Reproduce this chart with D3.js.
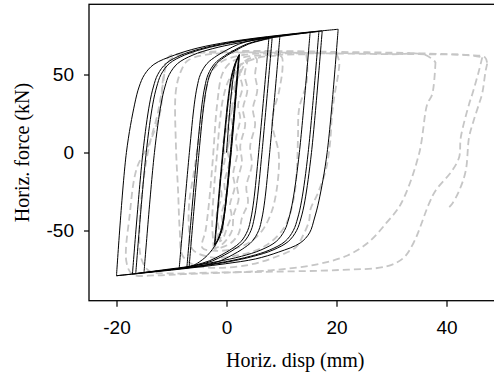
<!DOCTYPE html>
<html>
<head>
<meta charset="utf-8">
<script src="https://cdn.jsdelivr.net/npm/d3@7"></script>
<style>
  body { margin: 0; background: #fff; }
  svg { display: block; }
  .tick text { font-family: "Liberation Sans", Arial, sans-serif; font-size: 19px; fill: #000; }
  .title { font-family: "Liberation Serif", "Times New Roman", serif; font-size: 20px; fill: #000; }
</style>
</head>
<body>
<svg id="chart" width="494" height="379"></svg>
<script>
// axis ticks
const xTicks = [-20, 0, 20, 40]
const yTicks = [-50, 0, 50]

// model (black, solid): each branch runs from one reversal point to the next [disp mm, force kN]
const modelBranches = [
  [[0,0],[0.8,35],[1.3,50],[1.7,57],[2.2,62]],
  [[2.2,62],[0.7,0],[-0.4,-38],[-0.9,-48],[-1.5,-55],[-2.1,-59]],
  [[-2.1,-59],[-0.6,0],[0.5,38],[1.0,49],[1.6,57],[2.3,62.5]],
  [[2.3,62.5],[0.8,0],[-0.3,-38],[-0.8,-49],[-1.4,-55],[-2.2,-59.5]],
  [[-2.2,-59.5],[-0.7,0],[0.4,38],[0.9,49],[1.6,57.5],[2.35,63]],
  [[2.35,63],[0.85,0],[-0.3,-38],[-0.9,-50],[-1.8,-58],[-3.5,-66],[-5.3,-71],[-6.8,-73.5]],
  [[-6.8,-73.5],[-5,0],[-4.1,31],[-3.6,42],[-3,50],[-1.8,57],[0,62],[1.8,65.7],[4,69.5],[6.5,72],[7.7,73]],
  [[7.7,73],[5.85,0],[4.95,-31],[4.45,-42],[3.85,-50],[2.65,-57],[0.85,-62],[-0.95,-65.7],[-3.15,-69.5],[-5.5,-72],[-7.2,-73.5]],
  [[-7.2,-73.5],[-5.35,0],[-4.45,31],[-3.95,42],[-3.35,50],[-2.15,57],[-0.35,62],[1.45,65.7],[3.65,69.5],[6.15,72],[8.3,73.5]],
  [[8.3,73.5],[6.45,0],[5.55,-31],[5.05,-42],[4.45,-50],[3.25,-57],[1.45,-62],[-0.35,-65.7],[-2.55,-69.5],[-5.05,-72],[-7,-73.3],[-8.6,-74.3]],
  [[-8.6,-74.3],[-6.75,0],[-5.85,31],[-5.35,42],[-4.75,50],[-3.55,57],[-1.75,62],[0.05,65.7],[2.25,69.5],[4.75,72],[7,73.3],[9.7,74.3]],
  [[9.7,74.3],[7.85,0],[6.95,-31],[6.45,-42],[5.85,-50],[4.65,-57],[2.85,-62],[1.05,-65.7],[-1.15,-69.5],[-3.65,-72],[-6,-73.4],[-10,-75],[-15,-77]],
  [[-15,-77],[-13.1,0],[-11.9,31],[-11.2,42],[-10.4,50],[-8.9,57],[-6.1,62.5],[-2.6,66.5],[1.9,70],[6.9,73],[11,75],[15.2,77]],
  [[15.2,77],[13.25,0],[12.05,-31],[11.35,-42],[10.55,-50],[9.05,-57],[6.25,-62.5],[2.75,-66.5],[-1.75,-70],[-6.75,-73],[-11,-75],[-16.5,-77.6]],
  [[-16.5,-77.6],[-14.6,0],[-13.4,31],[-12.7,42],[-11.9,50],[-10.4,57],[-7.6,62.5],[-4.1,66.5],[0.4,70],[5.4,72.8],[11,75.3],[16.8,77.6]],
  [[16.8,77.6],[14.85,0],[13.65,-31],[12.95,-42],[12.15,-50],[10.65,-57],[7.85,-62.5],[4.35,-66.5],[-0.15,-70],[-5.15,-72.8],[-11,-75.3],[-17.1,-77.9]],
  [[-17.1,-77.9],[-15.2,0],[-14,31],[-13.3,42],[-12.5,50],[-11,57],[-8.2,62.5],[-4.7,66.5],[-0.2,70],[4.8,72.8],[11,75.5],[17.4,77.9]],
  [[17.4,77.9],[15.45,0],[14.25,-31],[13.55,-42],[12.75,-50],[11.25,-57],[8.45,-62.5],[4.95,-66.5],[0.45,-70],[-4.55,-72.8],[-11,-75.5],[-20,-79]],
  [[-20,-79],[-18.2,0],[-16.7,31],[-15.9,42],[-14.9,50],[-13.2,56.5],[-9.4,62.5],[-5.2,67],[0.3,70.8],[5,73.2],[10,75.3],[15,77.2],[20.3,79]],
  [[20.3,79],[18.3,0],[16.8,-31],[16,-42],[15.1,-51.5],[13.4,-58],[9.5,-63.8],[5.3,-68.2],[-0.2,-71.3],[-5,-73.4],[-10,-75.4],[-15,-77.2],[-20,-79]]
]

// test (grey, dashed)
const testSmall = [[0,0],[0.6,12],[0.3,18],[1.1,30],[0.8,36],[1.6,44],[1.3,48],[2.2,54],[2.8,57],[2.4,50],[2.9,42],[2.1,30],[2.5,22],[1.7,8],[2.0,0],[1.2,-14],[1.5,-22],[0.6,-34],[0.9,-40],[0.1,-48],[-0.5,-54],[-1.2,-57],[-0.6,-48],[-0.9,-40],[-0.1,-28],[-0.4,-20],[0.5,-6],[0.2,2],[1.1,16],[0.8,24],[1.7,36],[1.4,42],[2.4,50],[3.2,56],[3.8,59],[3.3,50],[3.8,40],[3.0,28],[3.4,18],[2.5,4],[2.8,-6],[1.9,-20],[2.2,-30],[1.3,-40],[1.0,-50],[0,-56],[-1.2,-60],[-2,-61],[-1.4,-50],[-1.8,-40],[-0.9,-28],[-1.2,-18],[-0.3,-4],[-0.6,6],[0.4,20],[0.1,28],[1.1,40],[0.9,46],[2,54],[3.5,59],[5,61],[5.5,60],[5.2,50],[5.6,40],[4.8,28],[5.2,18],[4.3,4],[4.6,-8],[3.6,-22],[3.9,-32],[2.8,-42],[2.2,-52],[0.8,-58],[-1,-61],[-2.3,-62]]
const testLoop10 = [[-2.3,-62],[-2.6,-45],[-2.2,-20],[-1.7,0],[-1.2,20],[-0.6,35],[0.5,47],[2.5,56],[5.5,60.5],[8.5,62],[10,61.5],[10.2,55],[9.6,40],[8.3,20],[9.5,-1],[9.2,-22],[8.2,-38],[6.5,-50],[4,-58],[1,-62],[-2,-63],[-4.4,-61],[-3.8,-50],[-3.2,-33],[-2.5,-5],[-1.7,31],[-0.8,50],[0.5,57],[3,61],[8,62.5],[14.5,63]]
const testLoop14 = [[14.5,63],[14.7,55],[14.5,44],[13.2,28],[13,10],[12.8,-10],[12.2,-30],[10.5,-48],[7,-60],[2,-66],[-3,-67],[-6.2,-62],[-6.8,-50],[-6.8,-33],[-5.8,-10],[-5,10],[-4.1,31],[-3,50],[-1,58],[3,62.5],[10,63.5],[20,63.5]]
const testLoop20 = [[20,63.5],[20.5,58],[20.3,50],[19.7,38],[19.2,25],[18.8,5],[18,-12],[16.5,-27],[15.3,-36],[15,-44],[13.8,-54],[12.6,-60.8],[8.9,-67],[4.1,-72],[-2,-74],[-6,-72],[-8,-66],[-8.5,-50],[-8.8,-25],[-9.2,5],[-9.2,39.6],[-8.3,52],[-7.1,58.8],[-4,62.5],[2,64],[10,64],[20,63.5],[30,63],[36,62.8],[38,58]]
const testLoop38 = [[38,58],[37.4,37.3],[36.5,31],[35,-1],[31.7,-33],[29.1,-45],[26,-57],[22,-66],[16,-72],[8,-75.5],[0,-77],[-8,-78],[-12.9,-78.8],[-17.1,-78],[-18.2,-70],[-17.6,-40],[-16.3,-10],[-13.8,7.6],[-12,26.8],[-11.5,48],[-10.6,58],[-9,62],[-5,64],[0,65],[10,65],[20,64.5],[30,64],[40,63],[45,62],[46.5,61]]
const testLoop46 = [[46.5,61],[45.9,52.4],[44.7,37.5],[44.1,31],[42.6,9.7],[42.3,-3],[41,-11.7],[38,-24.5],[36.8,-33],[34,-58],[32.1,-67.8],[29.1,-73],[20.6,-75.3],[8.5,-76.4],[-3,-77],[-10,-77.5],[-14,-76],[-15.5,-68],[-15.8,-45],[-15,-15],[-14,5],[-12.5,25],[-11.5,45],[-10.6,61],[-8,63.5],[-3,64],[5,64.5],[15,64],[25,63.5],[35,63],[44,62.5],[47,61],[47.4,57]]
const testLoop47 = [[47.4,57],[47.1,52],[46.5,38],[45.9,31],[44.9,20],[44.1,9.7],[43.5,-11.7],[42.3,-24.5],[41,-33],[40.2,-36]]

const svg = d3.select('#chart')
const plotLeft = 89, plotRight = 501.5, plotTop = 4.3, plotBottom = 300.7

const x = d3.scaleLinear().domain([-25, 50]).range([plotLeft, plotRight])
const y = d3.scaleLinear().domain([-95, 95]).range([plotBottom, plotTop])

const line = d3.line()
    .x(d => x(d[0]))
    .y(d => y(d[1]))
    .curve(d3.curveCatmullRom.alpha(0.5))

const plot = svg.append('g')

// grey dashed test curves
const testLoops = [testSmall, testLoop10, testLoop14, testLoop20, testLoop38, testLoop46, testLoop47]
plot.selectAll('.test')
    .data(testLoops)
    .enter().append('path')
    .attr('class', 'test')
    .attr('d', line)
    .attr('fill', 'none')
    .attr('stroke', '#c6c6c6')
    .attr('stroke-width', 1.8)
    .attr('stroke-dasharray', '7,4')

// black model curves
plot.selectAll('.model')
    .data(modelBranches)
    .enter().append('path')
    .attr('class', 'model')
    .attr('d', line)
    .attr('fill', 'none')
    .attr('stroke', '#000')
    .attr('stroke-width', 1)

// frame
svg.append('rect')
    .attr('x', plotLeft).attr('y', plotTop)
    .attr('width', plotRight - plotLeft).attr('height', plotBottom - plotTop)
    .attr('fill', 'none')
    .attr('stroke', '#000')
    .attr('stroke-width', 1.3)

const xAxis = svg.append('g')
    .attr('transform', 'translate(0,' + plotBottom + ')')
    .call(d3.axisBottom(x).tickValues(xTicks).tickFormat(d => String(d)).tickSize(6).tickPadding(14))
const yAxis = svg.append('g')
    .attr('transform', 'translate(' + plotLeft + ',0)')
    .call(d3.axisLeft(y).tickValues(yTicks).tickFormat(d => String(d)).tickSize(5).tickPadding(10))
xAxis.select('.domain').remove()
yAxis.select('.domain').remove()
svg.selectAll('.tick line').attr('stroke', '#000').attr('stroke-width', 1.2)

svg.append('text')
    .attr('class', 'title')
    .attr('x', (plotLeft + plotRight) / 2)
    .attr('y', 367)
    .attr('text-anchor', 'middle')
    .text('Horiz. disp (mm)')

svg.append('text')
    .attr('class', 'title')
    .attr('transform', 'translate(29,' + y(0) + ') rotate(-90)')
    .attr('text-anchor', 'middle')
    .text('Horiz. force (kN)')
</script>
</body>
</html>
